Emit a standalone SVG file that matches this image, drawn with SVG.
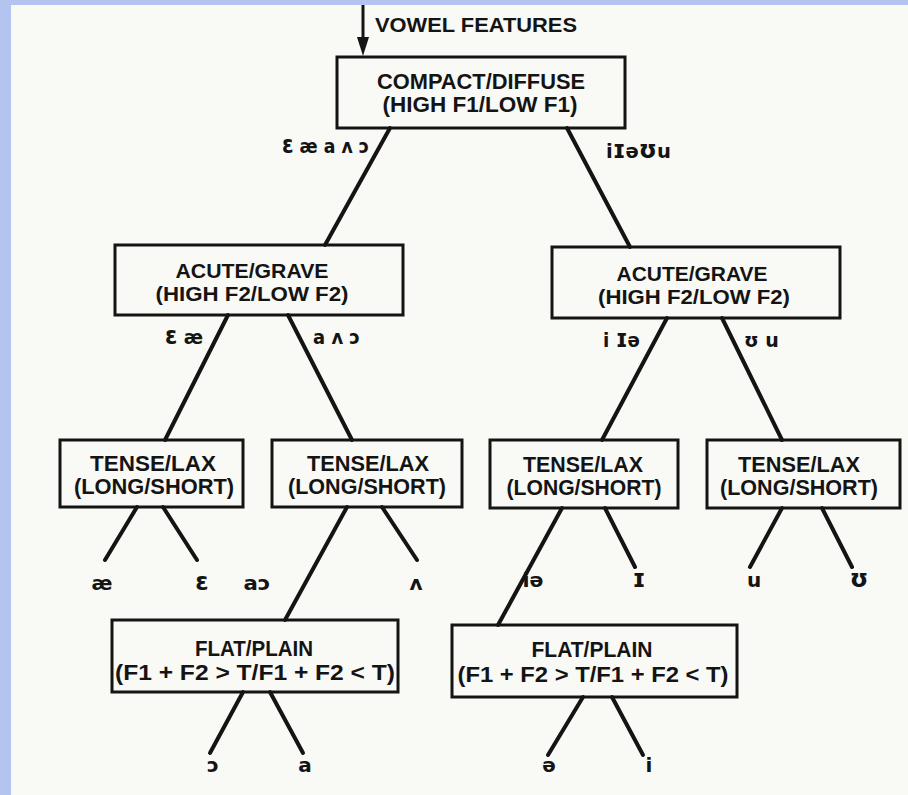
<svg xmlns="http://www.w3.org/2000/svg" width="908" height="795" viewBox="0 0 908 795">
<style>
.bg{fill:#f9f9f6}
.bd{fill:#b3c5ef}
.box{fill:none;stroke:#141414;stroke-width:3}
.t{font-family:"Liberation Sans",Arial,sans-serif;font-weight:bold;font-size:22px;fill:#141414;text-anchor:middle}
.s{font-size:21px}
.ttl{font-family:"Liberation Sans",Arial,sans-serif;font-weight:bold;font-size:21px;fill:#141414}
.p{font-family:"DejaVu Sans","Liberation Sans",sans-serif;font-weight:bold;font-size:20px;fill:#141414}
.big{font-size:24px}
.pm{text-anchor:middle}
.pe{text-anchor:end}
.c line{stroke:#141414;stroke-width:4;stroke-linecap:round}
</style>
<rect class="bg" x="0" y="0" width="908" height="795"/>
<rect class="bd" x="0" y="0" width="908" height="5"/>
<rect class="bd" x="0" y="0" width="11" height="795"/>

<g id="input">
<line x1="363" y1="5" x2="363" y2="40" stroke="#141414" stroke-width="3"/>
<polygon points="357,37 369,37 363,56" fill="#141414"/>
<text class="ttl" x="375" y="32" textLength="202" lengthAdjust="spacingAndGlyphs">VOWEL FEATURES</text>
</g>

<g id="compact-diffuse">
<rect class="box" x="337" y="57" width="288" height="71"/>
<text class="t" x="481" y="89" textLength="208" lengthAdjust="spacingAndGlyphs">COMPACT/DIFFUSE</text>
<text class="t" x="480" y="112" textLength="195" lengthAdjust="spacingAndGlyphs">(HIGH F1/LOW F1)</text>
</g>

<g id="acute-grave-left">
<rect class="box" x="115" y="245" width="288" height="70"/>
<text class="t s" x="252" y="278" textLength="153" lengthAdjust="spacingAndGlyphs">ACUTE/GRAVE</text>
<text class="t s" x="252" y="301" textLength="193" lengthAdjust="spacingAndGlyphs">(HIGH F2/LOW F2)</text>
</g>

<g id="acute-grave-right">
<rect class="box" x="552" y="247" width="288" height="71"/>
<text class="t s" x="692" y="281" textLength="151" lengthAdjust="spacingAndGlyphs">ACUTE/GRAVE</text>
<text class="t s" x="694" y="304" textLength="192" lengthAdjust="spacingAndGlyphs">(HIGH F2/LOW F2)</text>
</g>

<g id="tense-lax-1">
<rect class="box" x="60" y="440" width="183" height="67"/>
<text class="t" x="153" y="471" textLength="126" lengthAdjust="spacingAndGlyphs">TENSE/LAX</text>
<text class="t" x="154" y="494" textLength="160" lengthAdjust="spacingAndGlyphs">(LONG/SHORT)</text>
</g>

<g id="tense-lax-2">
<rect class="box" x="272" y="440" width="190" height="67"/>
<text class="t" x="368" y="471" textLength="122" lengthAdjust="spacingAndGlyphs">TENSE/LAX</text>
<text class="t" x="367" y="494" textLength="158" lengthAdjust="spacingAndGlyphs">(LONG/SHORT)</text>
</g>

<g id="tense-lax-3">
<rect class="box" x="490" y="440" width="188" height="68"/>
<text class="t" x="583" y="472" textLength="120" lengthAdjust="spacingAndGlyphs">TENSE/LAX</text>
<text class="t" x="584" y="495" textLength="155" lengthAdjust="spacingAndGlyphs">(LONG/SHORT)</text>
</g>

<g id="tense-lax-4">
<rect class="box" x="707" y="440" width="193" height="68"/>
<text class="t" x="799" y="472" textLength="122" lengthAdjust="spacingAndGlyphs">TENSE/LAX</text>
<text class="t" x="799" y="495" textLength="158" lengthAdjust="spacingAndGlyphs">(LONG/SHORT)</text>
</g>

<g id="flat-plain-1">
<rect class="box" x="112" y="620" width="286" height="72"/>
<text class="t" x="254" y="656" textLength="118" lengthAdjust="spacingAndGlyphs">FLAT/PLAIN</text>
<text class="t" x="255" y="680" textLength="280" lengthAdjust="spacingAndGlyphs">(F1 + F2 &gt; T/F1 + F2 &lt; T)</text>
</g>

<g id="flat-plain-2">
<rect class="box" x="452" y="625" width="285" height="72"/>
<text class="t" x="592" y="657" textLength="121" lengthAdjust="spacingAndGlyphs">FLAT/PLAIN</text>
<text class="t" x="593" y="682" textLength="271" lengthAdjust="spacingAndGlyphs">(F1 + F2 &gt; T/F1 + F2 &lt; T)</text>
</g>

<g id="connectors" class="c">
<line x1="390" y1="128" x2="325" y2="245"/>
<line x1="567" y1="128" x2="630" y2="247"/>
<line x1="228" y1="315" x2="165" y2="440"/>
<line x1="288" y1="315" x2="352" y2="440"/>
<line x1="667" y1="318" x2="602" y2="440"/>
<line x1="722" y1="318" x2="782" y2="440"/>
<line x1="137" y1="507" x2="105" y2="560"/>
<line x1="163" y1="507" x2="197" y2="560"/>
<line x1="347" y1="507" x2="285" y2="620"/>
<line x1="382" y1="507" x2="417" y2="560"/>
<line x1="562" y1="508" x2="498" y2="625"/>
<line x1="605" y1="508" x2="635" y2="567"/>
<line x1="782" y1="508" x2="750" y2="567"/>
<line x1="822" y1="508" x2="852" y2="567"/>
<line x1="243" y1="692" x2="210" y2="753"/>
<line x1="270" y1="692" x2="303" y2="753"/>
<line x1="583" y1="697" x2="548" y2="755"/>
<line x1="612" y1="697" x2="643" y2="755"/>
</g>

<g id="labels">
<text class="p pe" x="369" y="153" textLength="87" lengthAdjust="spacingAndGlyphs"><tspan class="big">ɛ</tspan> æ a ʌ ɔ</text>
<text class="p" x="606" y="158" textLength="65" lengthAdjust="spacingAndGlyphs">i<tspan class="big">ɪ</tspan>ə<tspan class="big">ʊ</tspan>u</text>
<text class="p" x="165" y="344" textLength="38" lengthAdjust="spacingAndGlyphs"><tspan class="big">ɛ</tspan> æ</text>
<text class="p" x="313" y="344" textLength="47" lengthAdjust="spacingAndGlyphs">a ʌ ɔ</text>
<text class="p" x="603" y="347" textLength="37" lengthAdjust="spacingAndGlyphs">i <tspan class="big">ɪ</tspan>ə</text>
<text class="p" x="744" y="347" style="font-size:19px">ʊ u</text>
<text class="p pm" x="102" y="590">æ</text>
<text class="p pm big" x="202" y="590">ɛ</text>
<text class="p pm" x="257" y="590" textLength="27" lengthAdjust="spacingAndGlyphs">aɔ</text>
<text class="p pm" x="416" y="590">ʌ</text>
<text class="p pm" x="533" y="587" textLength="21" lengthAdjust="spacingAndGlyphs">iə</text>
<text class="p pm big" x="639" y="587">ɪ</text>
<text class="p pm" x="754" y="587">u</text>
<text class="p pm big" x="859" y="587">ʊ</text>
<text class="p pm" x="213" y="772">ɔ</text>
<text class="p pm" x="305" y="772">a</text>
<text class="p pm" x="549" y="772">ə</text>
<text class="p pm" x="649" y="772">i</text>
</g>
</svg>
